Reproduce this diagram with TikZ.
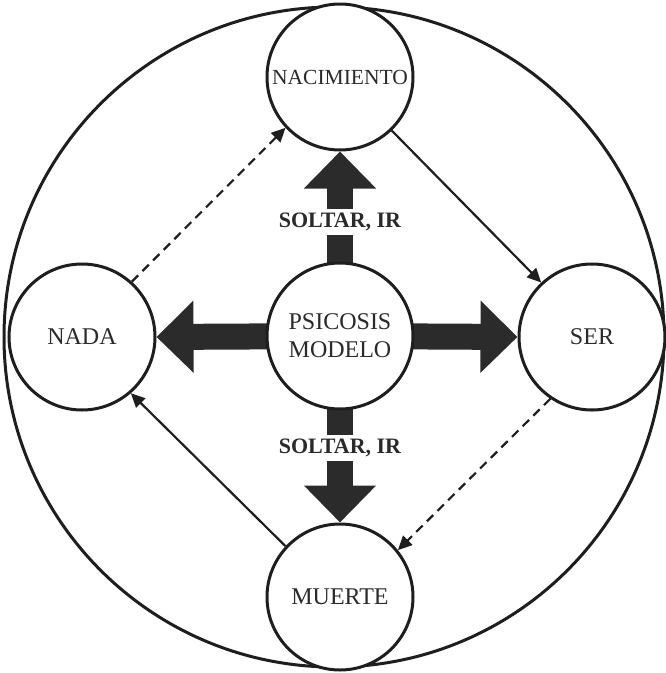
\documentclass[tikz,border=0pt]{standalone}
\usepackage{fontspec}
\setmainfont{Liberation Serif}
\usetikzlibrary{arrows.meta,calc}
\pgfdeclarelayer{background}
\pgfsetlayers{background,main}
\definecolor{ink}{HTML}{1E1E1E}
\definecolor{txt}{HTML}{2A2A2A}
\definecolor{fat}{HTML}{2B2B2B}
\begin{document}
\begin{tikzpicture}[x=1pt,y=-1pt,
  stage/.style={circle, draw=ink, line width=3pt, fill=white, minimum size=146pt,
    inner sep=0pt, text=txt, font=\fontsize{24}{28}\selectfont, align=center},
  outerring/.style={circle, draw=ink, line width=3pt, minimum size=660pt, inner sep=0pt},
  fatarrow/.style={draw=fat, line width=26pt, -{Triangle[length=37pt,width=70pt]}},
  soltar/.style={fill=white, inner sep=4pt, text=txt, font=\bfseries\fontsize{22}{26}\selectfont},
  thinarrow/.style={draw=ink, line width=2.2pt, -{Triangle[length=14pt,width=13pt]}},
  dashedarrow/.style={thinarrow, dash pattern=on 9pt off 6pt}]
\useasboundingbox (0,0) rectangle (665,673);

\node[outerring] (ring) at (334,337) {};
\node[stage] (psy) at (340,336) {PSICOSIS\\MODELO};
\node[stage, font=\fontsize{21.5}{26}\selectfont] (nac) at (340,77) {NACIMIENTO};
\node[stage] (nada) at (82,337) {NADA};
\node[stage] (ser) at (592,337) {SER};
\node[stage] (muerte) at (340,597) {MUERTE};

\begin{pgfonlayer}{background}
  \draw[fatarrow] (psy.center) -- (nac.south);
  \draw[fatarrow] (psy.center) -- (muerte.north);
  \draw[fatarrow] (psy.center) -- (nada.east);
  \draw[fatarrow] (psy.center) -- (ser.west);
\end{pgfonlayer}

\node[soltar] (lup) at (340,222) {SOLTAR, IR};
\node[soltar] (ldown) at (340,448) {SOLTAR, IR};

\draw[thinarrow] (nac.-46) -- (ser.133);
\draw[thinarrow] (muerte.137) -- (nada.-49);
\draw[dashedarrow] (nada.48) -- (nac.223);
\draw[dashedarrow] (ser.236) -- (muerte.39);
\end{tikzpicture}
\end{document}
